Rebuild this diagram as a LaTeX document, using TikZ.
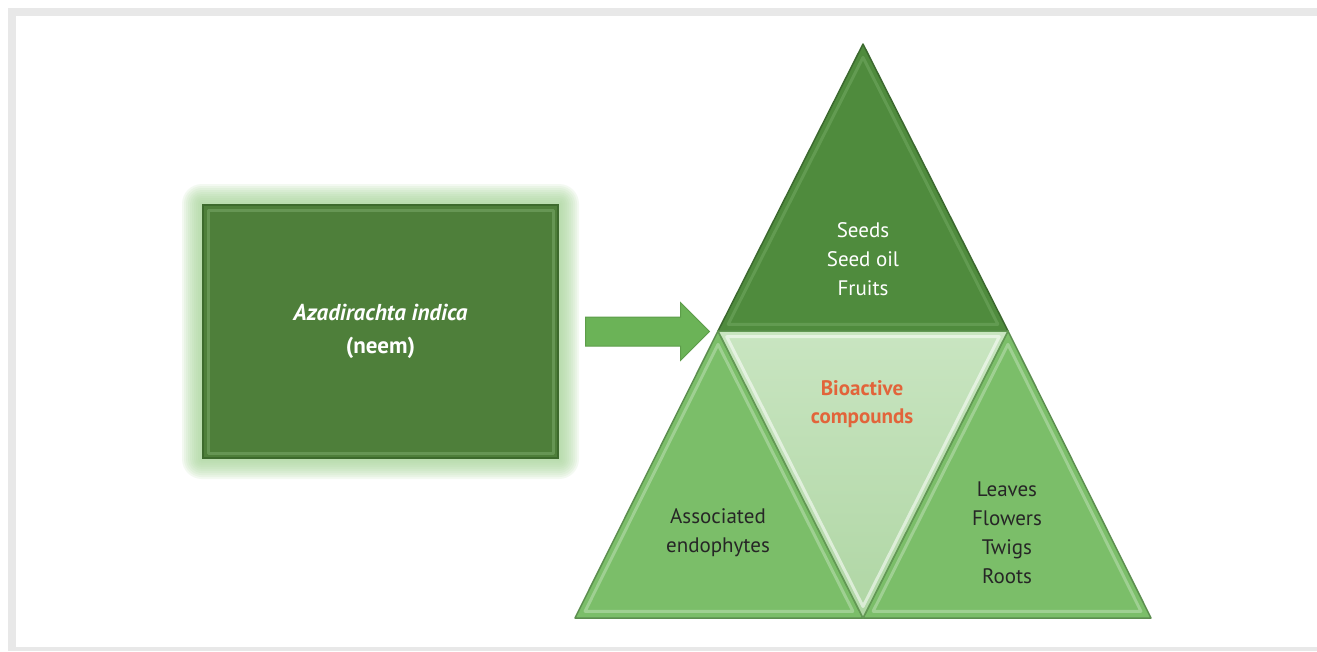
\documentclass[tikz,border=0pt]{standalone}
\usepackage{fontspec}
\setmainfont{PT Sans}
\usetikzlibrary{positioning,calc,shapes.arrows,backgrounds}

\definecolor{framegray}{HTML}{E8E8E8}
\definecolor{boxgreen}{HTML}{4E7F3A}
\definecolor{boxedge}{HTML}{3D6A2D}
\definecolor{glowgreen}{HTML}{A9D69A}
\definecolor{topgreen}{HTML}{4F8B3D}
\definecolor{sidegreen}{HTML}{7BBE69}
\definecolor{midtop}{HTML}{C9E5C1}
\definecolor{midbottom}{HTML}{AFD6A4}
\definecolor{arrowgreen}{HTML}{6BB357}
\definecolor{bioorange}{HTML}{E2643A}

\begin{document}
\begin{tikzpicture}[x=1pt,y=-1pt,
    every node/.style={font=\fontsize{21}{29}\selectfont,align=center,inner sep=0pt},
    darktext/.style={text=black!85},
    neembox/.style={fill=boxgreen,draw=boxedge,line width=2pt,text=white,
        minimum width=355pt,minimum height=253pt,font=\fontsize{23}{33}\selectfont},
    bigarrow/.style={single arrow,fill=arrowgreen,draw=arrowgreen!70!boxedge,line width=1pt,
        single arrow head extend=14.5pt,text height=14pt,text depth=14pt,minimum height=124pt},
    facet/.style={draw=#1,line width=1.5pt,line join=round},
    bevel/.style={draw=#1,line width=3pt,line join=round,opacity=0.55}]

\useasboundingbox (0,0) rectangle (1317,651);

% source box
\node[neembox] (box) at (380.5,331.5) {\textbf{\textit{Azadirachta indica}}\\\textbf{(neem)}};
\draw[bevel=boxgreen!50!glowgreen] ($(box.north west)+(6,6)$) rectangle ($(box.south east)+(-6,-6)$);

% frame, page and glow
\begin{scope}[on background layer]
  \fill[framegray] (8,8) rectangle (1317,651);
  \fill[white] (16,16) rectangle (1317,647);
  \foreach \g in {20,18,...,2}
    \fill[glowgreen,opacity=0.13,rounded corners=\g pt]
      ($(box.north west)+(-\g,-\g)$) rectangle ($(box.south east)+(\g,\g)$);
\end{scope}

% arrow
\node[bigarrow,right=26pt of box] (arr) {};

% triangle corners
\coordinate (apex) at (863,44);
\coordinate (tl) at (718,331);
\coordinate (tr) at (1008,331);
\coordinate (bl) at (575,618);
\coordinate (bm) at (863,618);
\coordinate (br) at (1151,618);

% outer facets
\foreach \a/\b/\c/\col/\hi in {apex/tl/tr/topgreen/topgreen!60!glowgreen,
    tl/bl/bm/sidegreen/sidegreen!50!white, tr/bm/br/sidegreen/sidegreen!50!white} {
  \fill[\col] (\a) -- (\b) -- (\c) -- cycle;
  \draw[facet=\col!75!black] (\a) -- (\b) -- (\c) -- cycle;
  \coordinate (m) at (barycentric cs:\a=1,\b=1,\c=1);
  \draw[bevel=\hi] ($(\a)!0.07!(m)$) -- ($(\b)!0.07!(m)$) -- ($(\c)!0.07!(m)$) -- cycle;
}

% centre facet
\shade[top color=midtop,bottom color=midbottom] (tl) -- (tr) -- (bm) -- cycle;
\draw[facet=sidegreen!80!black] (tl) -- (tr) -- (bm) -- cycle;
\coordinate (m) at (barycentric cs:tl=1,tr=1,bm=1);
\draw[bevel=white] ($(tl)!0.06!(m)$) -- ($(tr)!0.06!(m)$) -- ($(bm)!0.06!(m)$) -- cycle;

% labels
\node[text=white] (seeds) at (863,259) {Seeds\\Seed oil\\Fruits};
\node[text=bioorange,font=\fontsize{21}{28}\selectfont\bfseries] (bio) at (862,404) {Bioactive\\compounds};
\node[darktext] (endo) at (718,533) {Associated\\endophytes};
\node[darktext] (parts) at (1007,532.5) {Leaves\\Flowers\\Twigs\\Roots};

\end{tikzpicture}
\end{document}
